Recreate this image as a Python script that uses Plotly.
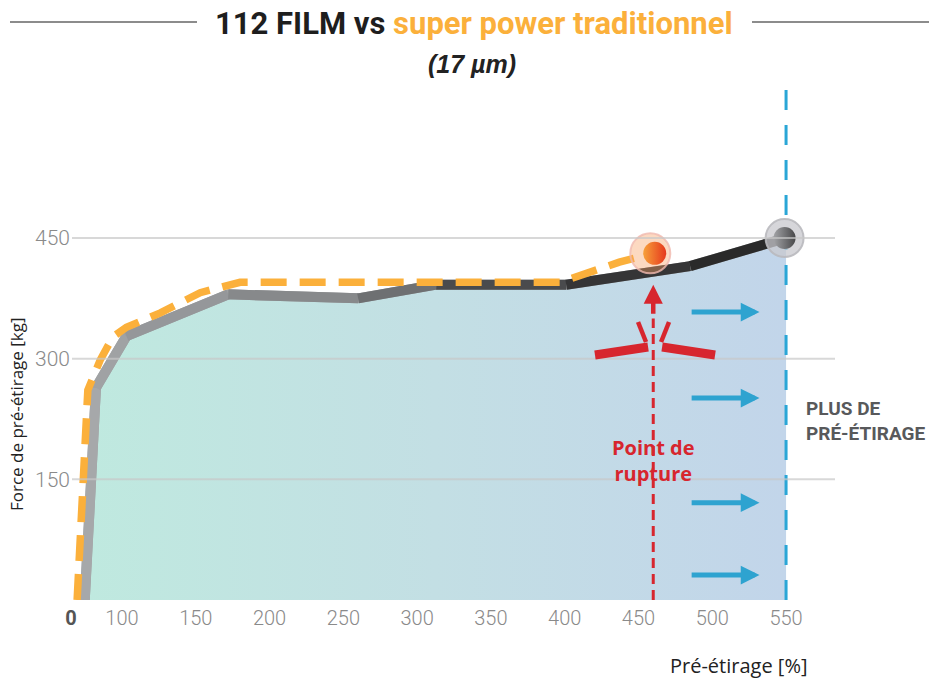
import plotly.graph_objects as go

# ---------------- data ----------------
film112_x = [27, 49, 103, 172, 260, 313, 401, 485, 550]
film112_y = [0, 264, 328, 380, 375, 392, 392, 415, 450]

superpower_x = [12, 20, 27, 33, 57, 82, 103, 126, 153, 168, 180, 397, 437, 460]
superpower_y = [0, 99, 180, 261, 298, 327, 339, 357, 382, 390, 395, 395, 420, 431]

x_tick_values = [0, 100, 150, 200, 250, 300, 350, 400, 450, 500, 550]
y_tick_values = [150, 300, 450]
rupture_x = 460
max_x = 550
arrow_levels = [358, 251, 121, 31]

# ---------------- axis transform (0-100 segment is compressed) ----------------
U0 = 65.44
def tx(v):
    return v if v >= 100 else U0 + v * (100 - U0) / 100.0

W, H = 929, 684
ML, MR, MT, MB = 71, 91, 88, 84
XR = [U0, 585.2]
YR = [0, 636.5]

def px(xp):
    return (xp - ML) / (W - ML - MR)
def py(yp):
    return (H - MB - yp) / (H - MT - MB)

COND = "Roboto, Open Sans, sans-serif"

fig = go.Figure()

# fill under 112 FILM
fig.add_trace(go.Scatter(
    x=[tx(v) for v in film112_x], y=film112_y, mode="lines",
    line=dict(color="rgba(0,0,0,0)", width=0),
    fill="tozeroy",
    fillgradient=dict(type="horizontal",
                      colorscale=[[0, "#bfe9df"], [0.5, "#c3dfe4"], [1, "#c2d5ea"]]),
    hoverinfo="skip", showlegend=False))

# gridlines drawn over fill
for g in y_tick_values:
    fig.add_shape(type="line", xref="paper", yref="y", x0=px(72), x1=px(835), y0=g, y1=g,
                  line=dict(color="rgba(200,200,200,0.7)", width=2), layer="above")

# blue dashed vertical (max pre-stretch), drawn as a trace so the end ball sits on top
fig.add_trace(go.Scatter(
    x=[max_x, max_x], y=YR, mode="lines",
    line=dict(color="#2aa6d6", width=3, dash="20px,15px"),
    hoverinfo="skip", showlegend=False, cliponaxis=False))

# base grey line
fig.add_trace(go.Scatter(
    x=[tx(v) for v in film112_x], y=film112_y, mode="lines",
    line=dict(color="#9ea0a2", width=10), hoverinfo="skip", showlegend=False))

seg_colors = ["#a6a8aa", "#a0a2a4", "#95979a", "#87898b", "#6e7072",
              "#4a4b4d", "#353536", "#2a2a2a"]
for i in range(len(film112_x) - 1):
    fig.add_trace(go.Scatter(
        x=[tx(film112_x[i]), tx(film112_x[i + 1])],
        y=[film112_y[i], film112_y[i + 1]], mode="lines",
        line=dict(color=seg_colors[i], width=10), hoverinfo="skip", showlegend=False))

# super power dashed line
fig.add_trace(go.Scatter(
    x=[tx(v) for v in superpower_x], y=superpower_y, mode="lines",
    line=dict(color="#fbb03b", width=7.5, dash="26px,13px"),
    hoverinfo="skip", showlegend=False))

# end markers
fig.add_trace(go.Scatter(
    x=[tx(superpower_x[-1]) - 2], y=[superpower_y[-1]], mode="markers",
    marker=dict(size=40, color="rgba(247,160,100,0.40)",
                line=dict(color="rgba(240,185,175,0.8)", width=2)),
    hoverinfo="skip", showlegend=False))
fig.add_trace(go.Scatter(
    x=[tx(superpower_x[-1]) + 1], y=[superpower_y[-1]], mode="markers",
    marker=dict(size=23, color="#f7a03a",
                gradient=dict(type="horizontal", color="#e5381d"),
                line=dict(width=0)),
    hoverinfo="skip", showlegend=False))
fig.add_trace(go.Scatter(
    x=[tx(film112_x[-1]) - 1], y=[film112_y[-1]], mode="markers",
    marker=dict(size=38, color="rgba(200,200,206,0.75)",
                line=dict(color="rgba(185,185,190,0.9)", width=2)),
    hoverinfo="skip", showlegend=False))
fig.add_trace(go.Scatter(
    x=[tx(film112_x[-1]) - 1], y=[film112_y[-1]], mode="markers",
    marker=dict(size=22, color="#a2a3a6",
                gradient=dict(type="horizontal", color="#48484a"),
                line=dict(width=0)),
    hoverinfo="skip", showlegend=False))

shapes = []
# y axis line (partial height)
shapes.append(dict(type="line", xref="x", yref="y", x0=tx(0), x1=tx(0), y0=0, y1=465,
                   line=dict(color="#8a8a8a", width=1.5)))
shapes.append(dict(type="line", xref="x", yref="y", x0=tx(0) - 3, x1=tx(0), y0=450, y1=450,
                   line=dict(color="#8a8a8a", width=1.5)))
# x axis line
shapes.append(dict(type="line", xref="paper", yref="y", x0=px(68), x1=px(838), y0=0, y1=0,
                   line=dict(color="#8a8a8a", width=2)))
# red dashed vertical
shapes.append(dict(type="line", xref="x", yref="y", x0=rupture_x, x1=rupture_x, y0=0, y1=350,
                   line=dict(color="#d7262e", width=3, dash="10px,6px")))
# burst marks
for (x0, y0, x1, y1, w) in [(420.5, 304.6, 456.5, 314.5, 9), (466.0, 314.5, 501.9, 304.6, 9),
                            (449.7, 345.6, 455.1, 320.7, 4.5), (470.7, 345.6, 465.3, 320.7, 4.5)]:
    shapes.append(dict(type="line", xref="x", yref="y", x0=x0, x1=x1, y0=y0, y1=y1,
                       line=dict(color="#d7262e", width=w)))
# title side lines
shapes.append(dict(type="line", xref="paper", yref="paper", x0=px(10), x1=px(197),
                   y0=py(22), y1=py(22), line=dict(color="#666666", width=1.5)))
shapes.append(dict(type="line", xref="paper", yref="paper", x0=px(752), x1=px(929),
                   y0=py(22), y1=py(22), line=dict(color="#666666", width=1.5)))

annotations = []
# blue arrows
for lv in arrow_levels:
    annotations.append(dict(x=532, y=lv, ax=485, ay=lv, xref="x", yref="y", axref="x", ayref="y",
                            text="", showarrow=True, arrowhead=2, arrowsize=0.75, arrowwidth=5,
                            arrowcolor="#2ea3d0", standoff=0, startstandoff=0))
# red arrow
annotations.append(dict(x=rupture_x, y=392, ax=rupture_x, ay=354, xref="x", yref="y",
                        axref="x", ayref="y", text="", showarrow=True, arrowhead=2,
                        arrowsize=0.85, arrowwidth=4.5, arrowcolor="#d7262e", standoff=0))
annotations.append(dict(x=rupture_x, y=174, xref="x", yref="y", text="<b>Point de<br>rupture</b>",
                        showarrow=False, font=dict(family="Open Sans", size=20, color="#d7262e"),
                        align="center", xanchor="center", yanchor="middle"))
annotations.append(dict(x=px(804), y=py(421), xref="paper", yref="paper", xanchor="left",
                        yanchor="middle",
                        text="<b>PLUS DE<br>PRÉ-ÉTIRAGE</b>", showarrow=False, align="left",
                        font=dict(family=COND, size=19, color="#58595b")))
# title
annotations.append(dict(x=px(474), y=py(23), xref="paper", yref="paper", xanchor="center",
                        yanchor="middle",
                        text="<b>112 FILM vs <span style='color:#fbb03b'>super power traditionnel</span></b>",
                        showarrow=False, font=dict(family=COND, size=31, color="#1e1e1e")))
annotations.append(dict(x=px(472), y=py(64), xref="paper", yref="paper", xanchor="center",
                        yanchor="middle",
                        text="<b><i>(17 µm)</i></b>", showarrow=False,
                        font=dict(family="Liberation Sans, Arial", size=25, color="#222222")))
# axis titles
annotations.append(dict(x=px(16), y=py(414), xref="paper", yref="paper", textangle=-90,
                        xanchor="center", yanchor="middle",
                        text="Force de pré-étirage [kg]", showarrow=False,
                        font=dict(family="Open Sans", size=17, color="#222222")))
annotations.append(dict(x=px(809), y=py(665), xref="paper", yref="paper", xanchor="right",
                        yanchor="middle",
                        text="Pré-étirage [%]", showarrow=False,
                        font=dict(family="Open Sans", size=20, color="#222222")))

tick_text = ["<b><span style='color:#555555'>0</span></b>" if v == 0 else str(v) for v in x_tick_values]

fig.update_layout(
    width=W, height=H, margin=dict(l=ML, r=MR, t=MT, b=MB),
    paper_bgcolor="white", plot_bgcolor="white",
    shapes=shapes, annotations=annotations, showlegend=False,
    xaxis=dict(range=XR, tickvals=[tx(v) for v in x_tick_values], ticktext=tick_text,
               showgrid=False, zeroline=False, showline=False, ticks="", ticklabelstandoff=4,
               tickfont=dict(family=COND, size=20, color="#8a8a8a", weight=300)),
    yaxis=dict(range=YR, tickvals=y_tick_values, ticktext=[str(v) for v in y_tick_values],
               showgrid=False, zeroline=False, showline=False, ticks="",
               tickfont=dict(family=COND, size=21, color="#8a8a8a", weight=300)),
)

fig.write_html("out.html", config={"displayModeBar": False},
               post_script="document.body.style.margin='0';")
